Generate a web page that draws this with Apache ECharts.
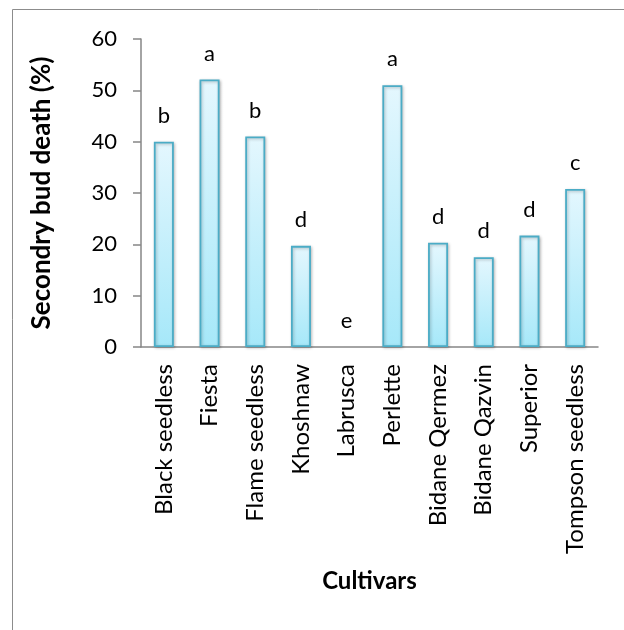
<!DOCTYPE html>
<html><head><meta charset="utf-8">
<script src="https://cdn.jsdelivr.net/npm/echarts@6/dist/echarts.min.js"></script>
<style>html,body{margin:0;padding:0;background:#fff;}#c{width:624px;height:630px;}</style>
</head><body><div id="c"></div>
<script>
const categories = ['Black seedless','Fiesta','Flame seedless','Khoshnaw','Labrusca','Perlette','Bidane Qermez','Bidane Qazvin','Superior','Tompson seedless'];
const values = [40.0, 52.1, 41.0, 19.7, 0, 51.0, 20.3, 17.5, 21.7, 30.8];
const letters = ['b','a','b','d','e','a','d','d','d','c'];
const yTicks = [0, 10, 20, 30, 40, 50, 60];

const chart = echarts.init(document.getElementById('c'), null, {renderer:'canvas'});
const font = 'Lato, "Open Sans", sans-serif';
chart.setOption({
  animation: false,
  backgroundColor: '#fff',
  graphic: [
    {type:'line', shape:{x1:12.5,y1:9.5,x2:624,y2:9.5}, style:{stroke:'#8c8c8c', lineWidth:1}},
    {type:'line', shape:{x1:12.5,y1:9.5,x2:12.5,y2:630}, style:{stroke:'#8c8c8c', lineWidth:1}}
  ],
  grid: {left:141, right:26, top:39, bottom:283, containLabel:false},
  xAxis: {
    type:'category', data: categories,
    axisLine:{lineStyle:{color:'#868686', width:1.5}},
    axisTick:{show:false},
    axisLabel:{rotate:90, margin:17, color:'#000', fontSize:24, fontFamily:font},
    name:'Cultivars', nameLocation:'middle', nameGap:222,
    nameTextStyle:{color:'#000', fontSize:24, fontWeight:'bold', fontFamily:font}
  },
  yAxis: {
    type:'value', min:yTicks[0], max:yTicks[yTicks.length-1], interval:10,
    axisLine:{show:true, lineStyle:{color:'#868686', width:1.5}},
    axisTick:{show:true, inside:false, length:8, lineStyle:{color:'#868686', width:1.5}},
    splitLine:{show:false},
    axisLabel:{margin:24, color:'#000', fontSize:22, fontFamily:font},
    name:'Secondry bud death (%)', nameLocation:'middle', nameGap:86, nameRotate:90,
    nameTextStyle:{color:'#000', fontSize:26, fontWeight:'bold', fontFamily:font}
  },
  series: [{
    type:'bar', barWidth:20,
    data: values.map(v => v === 0 ? {value:v, itemStyle:{borderWidth:0, shadowBlur:0, shadowColor:'transparent'}} : v),
    itemStyle:{
      color:{type:'linear', x:0, y:0, x2:0, y2:1, colorStops:[{offset:0,color:'#e4f7fe'},{offset:1,color:'#a6e8f9'}]},
      borderColor:'#4bacc6', borderWidth:1.8,
      shadowColor:'rgba(0,0,0,0.25)', shadowBlur:3, shadowOffsetX:1, shadowOffsetY:1
    },
    label:{show:true, position:'top', distance:15, color:'#000', fontSize:22, fontFamily:font,
      formatter: p => letters[p.dataIndex]}
  }]
});
</script></body></html>
